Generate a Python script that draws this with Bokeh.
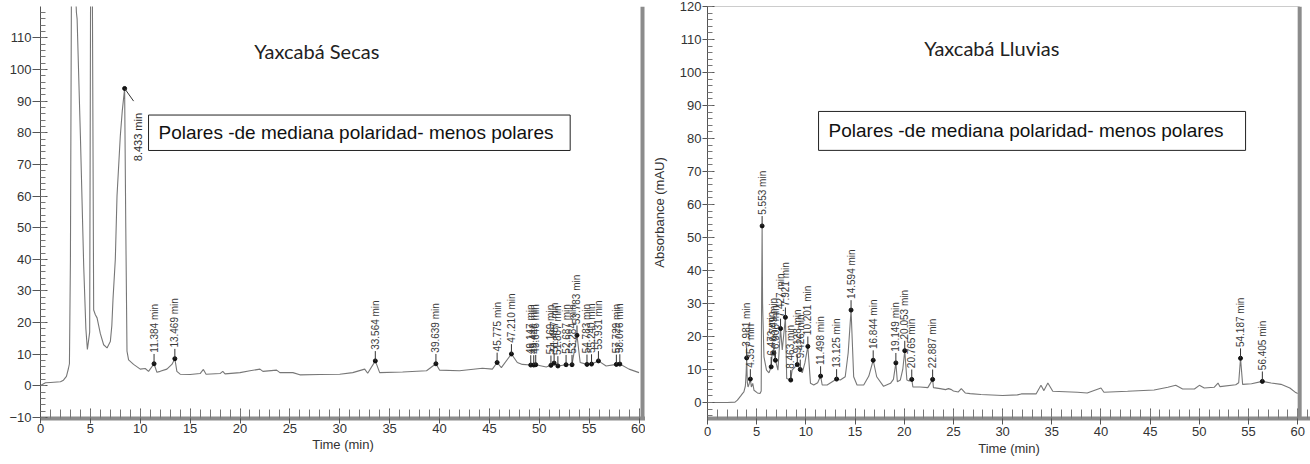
import math
from bokeh.plotting import figure
from bokeh.layouts import row
from bokeh.models import Range1d, Span, SingleIntervalTicker, BoxAnnotation, Label
from bokeh.core.properties import value
from bokeh.embed import file_html
from bokeh.resources import INLINE

# ---------------- data ----------------
# (time min, absorbance mAU) read off the "Secas" chromatogram
secas_trace = [
    (0.0, 0.1), (0.5, 1.0), (1.0, 1.1), (2.0, 1.3), (2.3, 1.8), (2.6, 3.0), (2.8, 5.5),
    (2.9, 7.0), (3.0, 40.0), (3.1, 125.0), (3.3, 180.0), (3.45, 130.0), (3.6, 118.0),
    (3.67, 116.0), (4.0, 79.0), (4.33, 38.0), (4.55, 18.0), (4.7, 11.5), (4.93, 17.0),
    (5.02, 125.0), (5.1, 150.0), (5.2, 125.0), (5.33, 24.0), (5.5, 22.5), (5.67, 21.5),
    (6.0, 16.5), (6.33, 13.0), (6.67, 12.0), (7.0, 14.0), (7.15, 19.0), (7.27, 27.5),
    (7.5, 40.0), (7.67, 60.0), (8.0, 79.0), (8.2, 87.0), (8.433, 94.0), (8.55, 50.0),
    (8.67, 11.0), (8.83, 8.2), (9.33, 6.8), (10.0, 5.3), (10.5, 5.5), (10.83, 4.6),
    (11.384, 7.0), (11.67, 4.3), (12.0, 4.6), (12.67, 5.3), (13.17, 6.8), (13.469, 8.6),
    (13.67, 4.6), (14.0, 3.7), (15.0, 3.6), (16.0, 3.9), (16.33, 5.2), (16.6, 3.7),
    (18.0, 3.9), (18.27, 4.6), (18.5, 3.8), (20.0, 4.2), (21.0, 4.8), (22.0, 5.3),
    (22.3, 4.6), (23.67, 5.0), (24.0, 4.2), (25.3, 4.2), (26.0, 3.5), (28.0, 3.6),
    (30.0, 3.7), (31.3, 4.2), (32.5, 5.3), (32.8, 4.0), (33.564, 7.9), (34.0, 4.2),
    (36.3, 4.4), (38.7, 4.8), (39.639, 7.0), (40.0, 5.0), (42.0, 4.8), (44.3, 5.6),
    (45.3, 5.3), (45.775, 7.4), (46.2, 5.8), (47.21, 10.1), (47.8, 7.4), (48.3, 6.8),
    (49.147, 6.6), (49.446, 6.6), (49.646, 6.7), (50.7, 6.0), (51.169, 6.5), (51.487, 7.2),
    (51.867, 6.3), (52.687, 6.7), (53.284, 6.7), (53.783, 16.0), (54.1, 7.4), (54.783, 6.8),
    (55.24, 6.9), (55.931, 7.9), (56.7, 6.3), (57.729, 6.8), (58.076, 6.9), (59.0, 5.3),
    (60.0, 4.2),
]

lluvias_trace = [
    (0.0, 0.0), (1.0, 0.0), (2.0, 0.0), (2.8, 0.1), (3.04, 0.7), (3.38, 2.0), (3.55, 2.7),
    (3.7, 3.2), (3.85, 5.0), (3.93, 9.0), (3.981, 13.5), (4.05, 6.0), (4.12, 4.7),
    (4.22, 5.5), (4.357, 7.1), (4.46, 4.7), (4.6, 5.8), (4.73, 3.7), (5.07, 2.9),
    (5.34, 2.7), (5.46, 3.5), (5.5, 30.0), (5.553, 53.5), (5.6, 30.0), (5.74, 13.8),
    (6.0, 9.8), (6.25, 9.0), (6.473, 10.8), (6.6, 15.9), (6.749, 15.0), (6.906, 12.8),
    (7.16, 9.8), (7.427, 22.4), (7.6, 15.9), (7.921, 25.8), (8.05, 7.3), (8.463, 6.8),
    (8.6, 9.8), (9.128, 11.5), (9.426, 10.0), (9.63, 9.0), (9.9, 12.0), (10.201, 17.0),
    (10.47, 5.8), (10.8, 5.3), (11.2, 6.0), (11.498, 8.0), (11.66, 5.3), (12.16, 5.3),
    (13.125, 7.1), (13.5, 6.8), (14.0, 7.8), (14.3, 15.0), (14.594, 28.0), (14.86, 7.8),
    (15.2, 5.3), (15.88, 5.3), (16.4, 8.0), (16.844, 12.8), (17.2, 7.8), (17.9, 4.9),
    (18.6, 5.8), (18.9, 7.0), (19.149, 12.0), (19.3, 6.3), (19.6, 6.8), (19.85, 10.0),
    (20.053, 15.7), (20.27, 6.8), (20.5, 6.5), (20.765, 7.0), (20.88, 4.7), (21.6, 4.7),
    (22.4, 4.5), (22.887, 7.0), (22.97, 4.5), (23.65, 4.2), (24.2, 3.9), (24.5, 4.2),
    (24.8, 3.9), (25.0, 3.5), (25.5, 3.2), (25.8, 4.2), (26.2, 2.9), (26.7, 2.7),
    (27.8, 2.4), (30.0, 2.1), (31.5, 2.3), (31.9, 2.6), (33.4, 2.6), (33.9, 5.2),
    (34.2, 3.6), (34.6, 5.9), (35.1, 3.4), (37.6, 3.1), (38.6, 2.9), (40.0, 4.4),
    (40.3, 3.1), (42.7, 3.4), (45.4, 3.8), (46.8, 4.6), (47.6, 5.2), (48.3, 4.1),
    (49.5, 4.1), (50.0, 5.2), (50.5, 4.4), (51.5, 4.6), (51.9, 5.9), (52.1, 4.8),
    (53.7, 5.4), (54.0, 6.0), (54.187, 13.4), (54.4, 5.5), (55.3, 5.7), (56.405, 6.4),
    (57.3, 5.9), (58.3, 5.5), (59.2, 4.4), (59.8, 3.0), (60.0, 2.7),
]

secas_peak_t = [8.433, 11.384, 13.469, 33.564, 39.639, 45.775, 47.210, 49.147, 49.446,
                49.646, 51.169, 51.487, 51.867, 52.687, 53.284, 53.783, 54.783, 55.240,
                55.931, 57.729, 58.076]
secas_peak_abs = [94.0, 7.0, 8.6, 7.9, 7.0, 7.4, 10.1, 6.6, 6.6, 6.7, 6.5, 7.2, 6.3, 6.7,
                  6.7, 16.0, 6.8, 6.9, 7.9, 6.8, 6.9]

lluvias_peak_t = [3.981, 4.357, 5.553, 6.473, 6.749, 6.906, 7.427, 7.921, 8.463, 9.128,
                  9.426, 10.201, 11.498, 13.125, 14.594, 16.844, 19.149, 20.053, 20.765,
                  22.887, 54.187, 56.405]
lluvias_peak_abs = [13.5, 7.1, 53.5, 10.8, 15.0, 12.8, 22.4, 25.8, 6.8, 11.5, 10.0, 17.0,
                    8.0, 7.1, 28.0, 12.8, 12.0, 15.7, 7.0, 7.0, 13.4, 6.4]

panel_titles = ["Yaxcabá Secas", "Yaxcabá Lluvias"]
box_text = "Polares -de mediana polaridad-  menos polares"
x_axis_label = "Time (min)"
y_axis_label = "Absorbance (mAU)"

# ---------------- style ----------------
TRACE = "#777777"
TXT = "#333333"
FONT = "Liberation Sans"


def style(p, show_ylabel, tick_out, label_standoff, title_standoff):
    p.grid.visible = False
    p.outline_line_color = None
    p.background_fill_color = "white"
    p.border_fill_color = "white"
    xa = p.xaxis[0]
    xa.ticker = SingleIntervalTicker(interval=5, num_minor_ticks=5)
    xa.axis_line_width = 4
    xa.axis_line_color = "#8c8c8c"
    xa.major_tick_in = 10
    xa.major_tick_out = tick_out
    xa.minor_tick_in = 9
    xa.minor_tick_out = 0
    xa.major_tick_line_color = "#555555"
    xa.minor_tick_line_color = "#777777"
    xa.major_label_standoff = label_standoff
    xa.major_label_text_font = FONT
    xa.major_label_text_font_size = "13px"
    xa.major_label_text_color = TXT
    xa.axis_label = x_axis_label
    xa.axis_label_text_font = FONT
    xa.axis_label_text_font_size = "13px"
    xa.axis_label_text_font_style = "normal"
    xa.axis_label_text_color = TXT
    xa.axis_label_standoff = title_standoff
    ya = p.yaxis[0]
    ya.ticker = SingleIntervalTicker(interval=10, num_minor_ticks=5)
    ya.axis_line_color = "#555555"
    ya.major_tick_in = 7
    ya.major_tick_out = 8 if not show_ylabel else 5
    ya.minor_tick_in = 5
    ya.minor_tick_out = 0
    ya.major_tick_line_color = "#555555"
    ya.minor_tick_line_color = "#777777"
    ya.major_label_standoff = 1
    ya.major_label_text_font = FONT
    ya.major_label_text_font_size = "13px"
    ya.major_label_text_color = TXT
    if show_ylabel:
        ya.axis_label = y_axis_label
        ya.axis_label_text_font = FONT
        ya.axis_label_text_font_size = "13px"
        ya.axis_label_text_font_style = "normal"
        ya.axis_label_text_color = TXT
        ya.axis_label_standoff = 10


def draw_peaks(p, pt, pv, lead, start=0):
    pt = pt[start:]
    pv = pv[start:]
    p.scatter(pt, pv, size=4, color="#111111")
    p.segment(x0=pt, y0=pv, x1=pt, y1=[v + lead for v in pv], line_color="#333333", line_width=1)
    p.text(x=pt, y=[v + lead + 0.4 for v in pv], text=[f"{t:.3f} min" for t in pt],
           angle=math.pi / 2, text_align="left", text_baseline="middle",
           text_font=value(FONT), text_font_size="10px", text_color="#3a3a3a")


# ---------------- left panel (Secas) ----------------
p1 = figure(width=645, height=464, x_range=Range1d(0, 60.65), y_range=Range1d(-10.3, 119.9),
            output_backend="svg", toolbar_location=None,
            min_border_left=40, min_border_right=0, min_border_top=2, min_border_bottom=42)
style(p1, False, 5, 0, 1)
st, sv = zip(*secas_trace)
p1.line(list(st), list(sv), line_color=TRACE, line_width=1.1)
draw_peaks(p1, secas_peak_t, secas_peak_abs, 3.1, start=1)
# first (8.433) peak label drawn to the side
p1.scatter([secas_peak_t[0]], [secas_peak_abs[0]], size=4, color="#111111")
p1.segment(x0=[secas_peak_t[0]], y0=[secas_peak_abs[0]], x1=[secas_peak_t[0] + 0.9],
           y1=[secas_peak_abs[0] - 4.0], line_color="#333333")
p1.text(x=[secas_peak_t[0] + 1.3], y=[secas_peak_abs[0] - 23.0],
        text=[f"{secas_peak_t[0]:.3f} min"], angle=math.pi / 2, text_align="left",
        text_baseline="middle", text_font=value(FONT), text_font_size="11px", text_color="#2a2a2a")
p1.add_layout(Span(location=60.35, dimension="height", line_color="#8c8c8c", line_width=4))
p1.add_layout(Label(x=27.7, y=105.8, text=panel_titles[0], text_align="center",
                    text_baseline="middle", text_font="Lato", text_font_size="20px",
                    text_color="#222222"))
p1.add_layout(BoxAnnotation(left=10.83, right=53.1, top=85.6, bottom=74.4, fill_color="white",
                            fill_alpha=1.0, line_color="#222222", line_width=1, line_alpha=1.0))
p1.add_layout(Label(x=11.83, y=80.0, text=box_text, text_align="left", text_baseline="middle",
                    text_font=FONT, text_font_size="19px", text_color="#111111"))

# ---------------- right panel (Lluvias) ----------------
p2 = figure(width=665, height=464, x_range=Range1d(0, 61.3), y_range=Range1d(-4.85, 120),
            output_backend="svg", toolbar_location=None,
            min_border_left=62, min_border_right=0, min_border_top=6, min_border_bottom=46)
style(p2, True, 6, 2, 2)
lt, lv = zip(*lluvias_trace)
p2.line(list(lt), list(lv), line_color=TRACE, line_width=1.1)
draw_peaks(p2, lluvias_peak_t, lluvias_peak_abs, 3.0)
p2.segment(x0=[0], y0=[120], x1=[60.2], y1=[120], line_color="#999999", line_width=1)
p2.add_layout(Span(location=60.2, dimension="height", line_color="#8c8c8c", line_width=4))
p2.add_layout(Label(x=28.9, y=107.3, text=panel_titles[1], text_align="center",
                    text_baseline="middle", text_font="Lato", text_font_size="20px",
                    text_color="#222222"))
p2.add_layout(BoxAnnotation(left=11.29, right=54.7, top=88.2, bottom=76.4, fill_color="white",
                            fill_alpha=1.0, line_color="#222222", line_width=1, line_alpha=1.0))
p2.add_layout(Label(x=12.31, y=82.3, text=box_text, text_align="left", text_baseline="middle",
                    text_font=FONT, text_font_size="19px", text_color="#111111"))

layout = row(p1, p2)
open("out.html", "w").write(file_html(layout, INLINE))
